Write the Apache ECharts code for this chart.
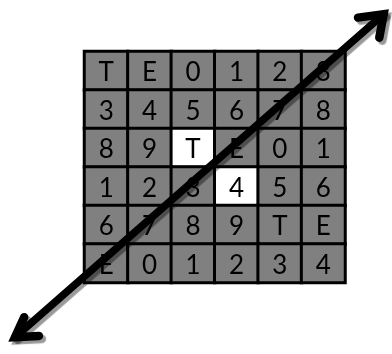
<!DOCTYPE html>
<html>
<head>
<meta charset="utf-8">
<script src="https://cdn.jsdelivr.net/npm/echarts@6/dist/echarts.min.js"></script>
<style>html,body{margin:0;padding:0;background:#fff}#c{width:392px;height:354px}</style>
</head>
<body>
<div id="c"></div>
<script>
// Grid of characters, row by row (top to bottom)
const cols = ['0', '1', '2', '3', '4', '5'];
const rows = ['0', '1', '2', '3', '4', '5'];
const row0 = ['T', 'E', '0', '1', '2', '3'];
const row1 = ['3', '4', '5', '6', '7', '8'];
const row2 = ['8', '9', 'T', 'E', '0', '1'];
const row3 = ['1', '2', '3', '4', '5', '6'];
const row4 = ['6', '7', '8', '9', 'T', 'E'];
const row5 = ['E', '0', '1', '2', '3', '4'];
const charRows = [row0, row1, row2, row3, row4, row5];
// highlighted (white) cells as [col, row]
const highlighted = [[2, 2], [3, 3]];
// Diagonal double-headed arrow, in cell units (x: 0..6 left->right, y: 0..6 bottom->top)
const arrowShaft = [[-1.60, -1.42], [6.89, 6.97]];
const headA = [[-1.39, -0.90], [-1.60, -1.42], [-1.05, -1.39]];
const headB = [[6.30, 6.88], [6.89, 6.97], [6.79, 6.36]];

const isHi = (c, r) => highlighted.some(h => h[0] === c && h[1] === r);
const heatData = [];
charRows.forEach((row, r) => row.forEach((ch, c) => {
  heatData.push({
    value: [c, r, 1],
    ch: ch,
    itemStyle: { color: isHi(c, r) ? '#ffffff' : '#808080' }
  });
}));

const W = 392, H = 354;
const gridBox = { left: 84.5, top: 51.5, width: 260.5, height: 231 };
// overlay grid spanning the whole canvas, its value axes expressed in cell units
const ux = gridBox.width / cols.length, uy = gridBox.height / rows.length;
const xMin = -gridBox.left / ux;
const xMax = (W - gridBox.left) / ux;
const yMin = -(H - gridBox.top - gridBox.height) / uy;
const yMax = rows.length + gridBox.top / uy;

const arrowStyle = w => ({
  color: '#000000',
  width: w,
  cap: 'round',
  join: 'miter',
  miterLimit: 10,
  shadowColor: 'rgba(0,0,0,0.4)',
  shadowOffsetX: 3,
  shadowOffsetY: 3,
  shadowBlur: 1
});
const arrowSeries = (d, w) => ({
  type: 'line',
  xAxisIndex: 1, yAxisIndex: 1,
  data: d,
  clip: false,
  silent: true,
  z: 10,
  symbol: 'none',
  lineStyle: arrowStyle(w)
});

const chart = echarts.init(document.getElementById('c'), null, { renderer: 'canvas' });
chart.setOption({
  animation: false,
  backgroundColor: '#ffffff',
  grid: [Object.assign({}, gridBox), { left: 0, top: 0, width: W, height: H }],
  xAxis: [
    { type: 'category', data: cols, gridIndex: 0, show: false },
    { type: 'value', min: xMin, max: xMax, gridIndex: 1, show: false }
  ],
  yAxis: [
    { type: 'category', data: rows, gridIndex: 0, inverse: true, show: false },
    { type: 'value', min: yMin, max: yMax, gridIndex: 1, show: false }
  ],
  series: [
    {
      type: 'heatmap',
      xAxisIndex: 0, yAxisIndex: 0,
      data: heatData,
      silent: true,
      itemStyle: { borderColor: '#000000', borderWidth: 3 },
      label: {
        show: true,
        formatter: p => p.data.ch,
        fontFamily: 'Lato',
        fontSize: 26,
        color: '#000000',
        offset: [0, 2]
      },
      emphasis: { disabled: true }
    },
    arrowSeries(arrowShaft, 7.5),
    arrowSeries(headA, 8.5),
    arrowSeries(headB, 8.5)
  ]
});
</script>
</body>
</html>
